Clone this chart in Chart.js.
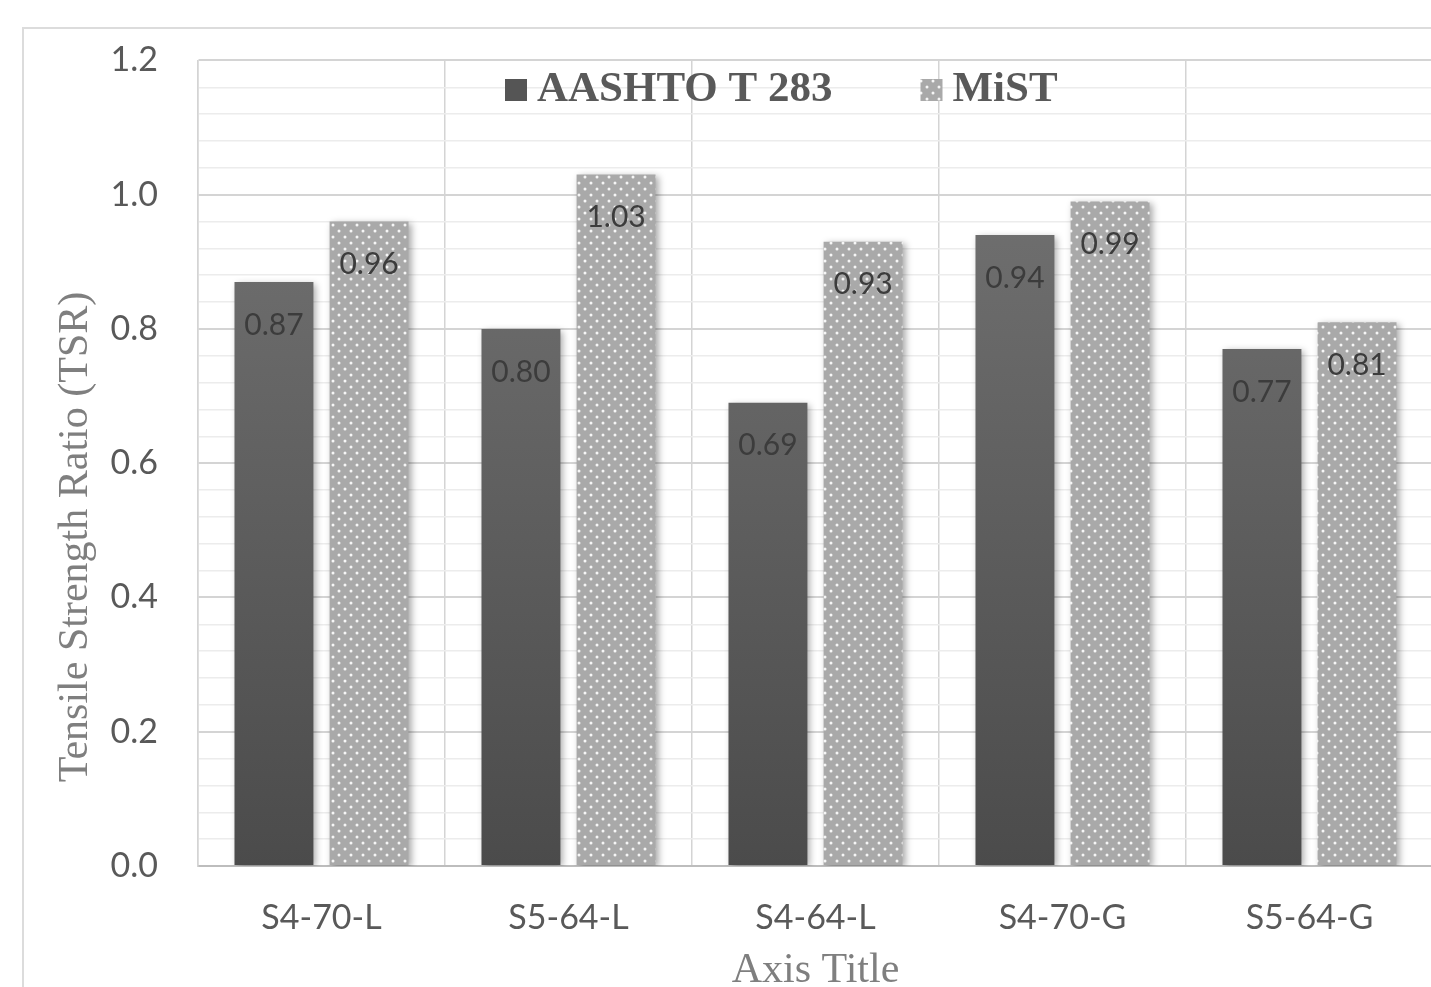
<!DOCTYPE html>
<html>
<head>
<meta charset="utf-8">
<title>Tensile Strength Ratio</title>
<script src="https://cdn.jsdelivr.net/npm/chart.js@4.4.0/dist/chart.umd.min.js"></script>
<style>
  html, body { margin: 0; padding: 0; background: #fff; overflow: hidden; }
  #wrap { position: absolute; left: 0; top: 0; width: 1445px; height: 1000px; }
</style>
</head>
<body>
<div id="wrap"><canvas id="graficoTSR"></canvas></div>
<script>
// Mixes on the x axis
const mixes = ['S4-70-L', 'S5-64-L', 'S4-64-L', 'S4-70-G', 'S5-64-G'];

// TSR values for each test method
const tsrAashto = [0.87, 0.80, 0.69, 0.94, 0.77];
const tsrMist = [0.96, 1.03, 0.93, 0.99, 0.81];
const seriesNames = ['AASHTO T 283', 'MiST'];

// Y axis range: labelled every 0.2, light lines every 0.04
const yMin = 0;
const yMax = 1.2;
const yMajorStep = 0.2;
const yMinorStep = 0.04;

const yAxisTitle = 'Tensile Strength Ratio (TSR)';
const xAxisTitle = 'Axis Title';

const sansFont = 'Lato, "Open Sans", sans-serif';
const serifFont = '"Liberation Serif", "DejaVu Serif", serif';

function isMajor(v) {
    return Math.abs(v / yMajorStep - Math.round(v / yMajorStep)) < 1e-6;
}

// White dots on light grey, used for the MiST bars
function makeDotPattern() {
    const c = document.createElement('canvas');
    c.width = 12;
    c.height = 12;
    const g = c.getContext('2d');
    g.fillStyle = '#a9a9a9';
    g.fillRect(0, 0, 12, 12);
    g.fillStyle = '#f6f6f6';
    [[3, 3], [9, 9]].forEach(p => {
        g.beginPath();
        g.arc(p[0], p[1], 1.5, 0, Math.PI * 2);
        g.fill();
    });
    return g.createPattern(c, 'repeat');
}
const dotPattern = makeDotPattern();

// Dark bars get a vertical gradient over the plot height
function darkGradient(context) {
    const area = context.chart.chartArea;
    if (!area) return '#555555';
    const gr = context.chart.ctx.createLinearGradient(0, area.top, 0, area.bottom);
    gr.addColorStop(0, '#777777');
    gr.addColorStop(1, '#4b4b4b');
    return gr;
}

// Outer chart frame
const chartFrame = {
    id: 'chartFrame',
    beforeDraw(chart) {
        const c = chart.ctx;
        c.save();
        c.strokeStyle = '#dcdcdc';
        c.lineWidth = 2;
        c.strokeRect(23, 28, chart.width + 50, chart.height + 50);
        c.restore();
    }
};

// Soft shadow behind the bars
const barShadow = {
    id: 'barShadow',
    beforeDatasetsDraw(chart) {
        const c = chart.ctx;
        c.save();
        c.shadowColor = 'rgba(0, 0, 0, 0.35)';
        c.shadowBlur = 7;
        c.shadowOffsetX = 3;
        c.shadowOffsetY = 2;
    },
    afterDatasetsDraw(chart) {
        chart.ctx.restore();
    }
};

// Value labels inside the top of each bar
const valueLabels = {
    id: 'valueLabels',
    afterDatasetsDraw(chart) {
        const c = chart.ctx;
        c.save();
        c.font = '30px ' + sansFont;
        c.fillStyle = '#3c3c3c';
        c.textAlign = 'center';
        c.textBaseline = 'middle';
        chart.data.datasets.forEach((ds, i) => {
            chart.getDatasetMeta(i).data.forEach((bar, j) => {
                c.fillText(ds.data[j].toFixed(2), bar.x, bar.y + 43);
            });
        });
        c.restore();
    }
};

// Legend sitting inside the top of the plot area
const topLegend = {
    id: 'topLegend',
    afterDraw(chart) {
        const c = chart.ctx;
        const fills = ['#555555', dotPattern];
        const box = 22;
        let x = 505;
        const y = 90;
        c.save();
        c.font = 'bold 43px ' + serifFont;
        c.textBaseline = 'middle';
        chart.data.datasets.forEach((ds, i) => {
            c.fillStyle = fills[i];
            c.fillRect(x, y - box / 2, box, box);
            x += box + 10;
            c.fillStyle = '#595959';
            c.fillText(ds.label, x, y);
            x += c.measureText(ds.label).width + 88;
        });
        c.restore();
    }
};

// Rotated y axis title
const yTitle = {
    id: 'yTitle',
    afterDraw(chart) {
        const c = chart.ctx;
        c.save();
        c.translate(76, 537);
        c.rotate(-Math.PI / 2);
        c.font = '42px ' + serifFont;
        c.fillStyle = '#7f7f7f';
        c.textAlign = 'center';
        c.textBaseline = 'middle';
        c.fillText(yAxisTitle, 0, 0);
        c.restore();
    }
};

Chart.defaults.font.family = sansFont;
Chart.defaults.color = '#595959';

const ctx = document.getElementById('graficoTSR').getContext('2d');
new Chart(ctx, {
    type: 'bar',
    data: {
        labels: mixes,
        datasets: [{
            label: seriesNames[0],
            data: tsrAashto,
            backgroundColor: darkGradient,
            categoryPercentage: 0.77,
            barPercentage: 0.83
        }, {
            label: seriesNames[1],
            data: tsrMist,
            backgroundColor: dotPattern,
            categoryPercentage: 0.77,
            barPercentage: 0.83
        }]
    },
    options: {
        responsive: true,
        maintainAspectRatio: false,
        animation: false,
        layout: { padding: { top: 60, right: 12, bottom: 0, left: 0 } },
        plugins: {
            legend: { display: false },
            tooltip: { enabled: false }
        },
        scales: {
            x: {
                grid: { color: '#d4d4d4', lineWidth: 1.5, drawTicks: false },
                border: { color: '#bdbdbd', width: 2 },
                ticks: { font: { size: 34 }, padding: 32, color: '#595959' },
                title: {
                    display: true,
                    text: xAxisTitle,
                    font: { family: serifFont, size: 42 },
                    color: '#7f7f7f',
                    padding: { top: 0, bottom: 4 }
                },
                afterFit(scale) { scale.height = 134; }
            },
            y: {
                min: yMin,
                max: yMax,
                grid: {
                    color: c => isMajor(c.tick.value) ? '#d4d4d4' : '#ececec',
                    lineWidth: c => isMajor(c.tick.value) ? 2 : 1.5,
                    drawTicks: false
                },
                border: { color: '#d4d4d4', width: 1.5 },
                ticks: {
                    stepSize: yMinorStep,
                    autoSkip: false,
                    padding: 40,
                    font: { size: 34 },
                    color: '#595959',
                    callback: v => isMajor(v) ? v.toFixed(1) : ''
                },
                afterFit(scale) { scale.width = 198; }
            }
        }
    },
    plugins: [chartFrame, barShadow, valueLabels, topLegend, yTitle]
});
</script>
</body>
</html>
